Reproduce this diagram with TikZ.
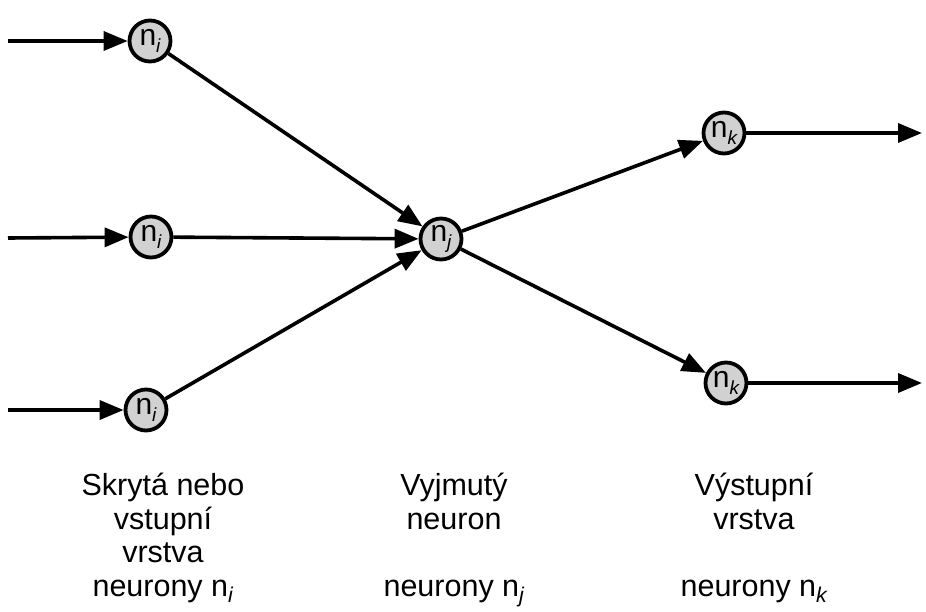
\documentclass[tikz,border=0pt]{standalone}
\usepackage{fontspec}
\setmainfont{Liberation Sans}
\usetikzlibrary{arrows.meta}
\begin{document}
\begin{tikzpicture}[x=1pt,y=-1pt,
  neuron/.style={circle,draw=black,line width=3.8pt,fill=black!18,
    minimum size=41pt,inner sep=0pt,font=\fontsize{30}{30}\selectfont},
  link/.style={line width=3.6pt,-{Triangle[length=24pt,width=19pt]}},
  caption/.style={align=center,inner sep=0pt,anchor=base,
    font=\fontsize{30.5}{33.5}\selectfont}]
\useasboundingbox (0,0) rectangle (926,612);
\newcommand{\nsub}[1]{n\raisebox{-0.4ex}{\fontsize{19}{19}\selectfont\itshape #1}}
% neurons
\node[neuron] (i1) at (150,41) {\nsub{i}};
\node[neuron] (i2) at (151,237) {\nsub{i}};
\node[neuron] (i3) at (146,410) {\nsub{i}};
\node[neuron] (j) at (441,239) {\nsub{j}};
\node[neuron] (k1) at (724,133) {\nsub{k}};
\node[neuron] (k2) at (726,383) {\nsub{k}};
% free ends of the input and output lines
\coordinate (in1) at (8,41);
\coordinate (in2) at (8,238);
\coordinate (in3) at (8,410);
\coordinate (out1) at (922,133);
\coordinate (out2) at (922,383);
% connectors
\draw[link] (in1) -- (i1);
\draw[link] (in2) -- (i2);
\draw[link] (in3) -- (i3);
\draw[link] (i1) -- (j);
\draw[link] (i2) -- (j);
\draw[link] (i3) -- (j);
\draw[link] (j) -- (k1);
\draw[link] (j) -- (k2);
\draw[link] (k1) -- (out1);
\draw[link] (k2) -- (out2);
% layer captions (anchored at the baseline of their last line)
\node[caption] (c1) at (163,596) {Skrytá nebo\\vstupní\\vrstva\\neurony n$_{\mathit{i}}$};
\node[caption] (c2) at (454,596) {Vyjmutý\\neuron\\[33.5pt]neurony n$_{\mathit{j}}$};
\node[caption] (c3) at (754,596) {Výstupní\\vrstva\\[33.5pt]neurony n$_{\mathit{k}}$};
\end{tikzpicture}
\end{document}
